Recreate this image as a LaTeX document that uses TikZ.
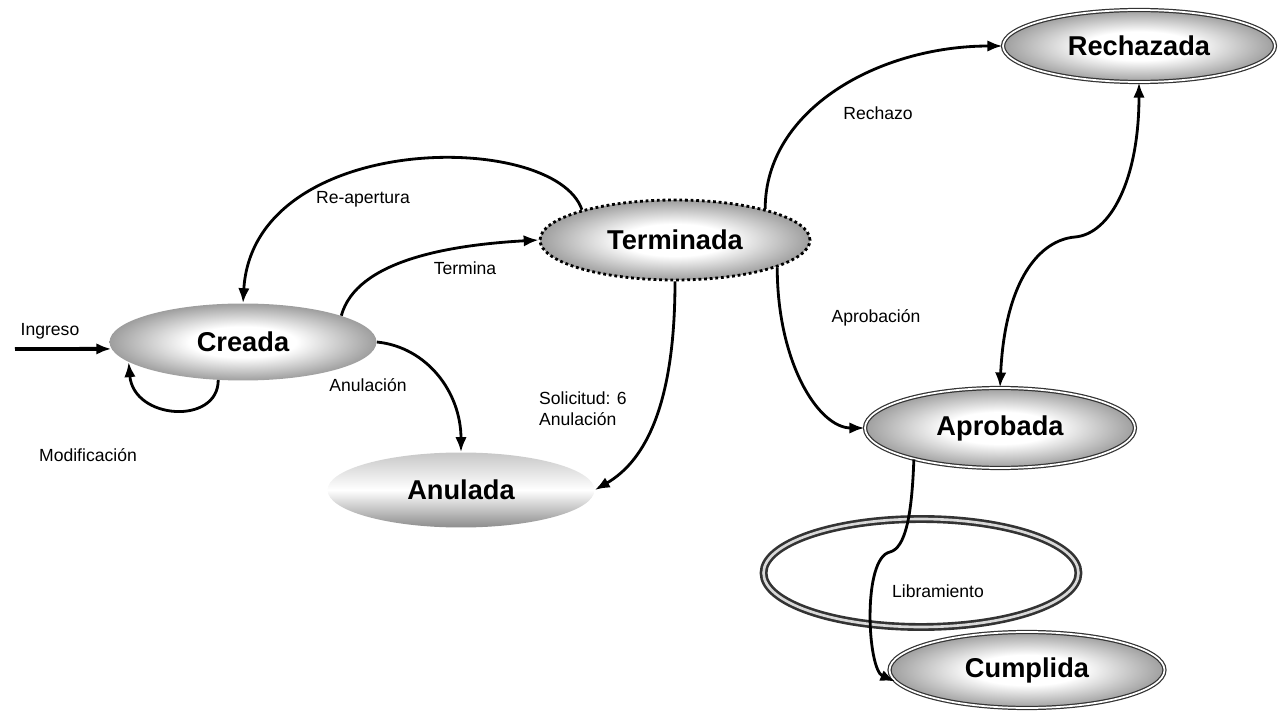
\documentclass[tikz,border=0pt]{standalone}
\usepackage{fontspec}
\setmainfont{Liberation Sans}
\usetikzlibrary{shapes.geometric,arrows.meta}

\pgfdeclareradialshading{stateShade}{\pgfpoint{0bp}{0bp}}{%
  color(0bp)=(white); color(10bp)=(white); color(25bp)=(black!38); color(50bp)=(black!38)}

\begin{document}
\begin{tikzpicture}[x=0.02cm,y=-0.02cm,%%
  stateStyle/.style={ellipse,inner sep=0pt,shading=stateShade,%%
    font=\bfseries\fontsize{15.5}{18}\selectfont},%%
  finalStyle/.style={stateStyle,draw=black!80,line width=0.7pt,double=white,%%
    double distance=1pt},%%
  dottedStyle/.style={stateStyle,draw=black,line width=1.6pt,%%
    dash pattern=on 1.6pt off 1.6pt},%%
  fadeStyle/.style={ellipse,inner sep=0pt,top color=black!22,bottom color=black!45,%%
    middle color=white,font=\bfseries\fontsize{15.5}{18}\selectfont},%%
  ringStyle/.style={ellipse,inner sep=0pt,draw=black!80,line width=1.5pt,%%
    double=black!15,double distance=1.5pt},%%
  arrowStyle/.style={-{Latex[length=8.5pt,width=6.5pt]},line width=1.6pt},%%
  labelStyle/.style={font=\fontsize{10}{12}\selectfont}%%
]
%%
\useasboundingbox (0,0) rectangle (1278,719);
%%
%% Draw the states.
\node[stateStyle,minimum width=5.34cm,minimum height=1.54cm] (creada) at (243,342) {Creada};
\node[dottedStyle,minimum width=5.4cm,minimum height=1.6cm] (terminada) at (675,240) {Terminada};
\node[fadeStyle,minimum width=5.34cm,minimum height=1.5cm] (anulada) at (461,490) {Anulada};
\node[finalStyle,minimum width=5.44cm,minimum height=1.44cm] (rechazada) at (1139,46) {Rechazada};
\node[finalStyle,minimum width=5.4cm,minimum height=1.6cm] (aprobada) at (1000,428) {Aprobada};
\node[ringStyle,minimum width=6.3cm,minimum height=2.16cm] (libramiento) at (921,573) {};
\node[finalStyle,minimum width=5.5cm,minimum height=1.52cm] (cumplida) at (1027,670) {Cumplida};
%%
\coordinate (ingresoStart) at (15,349);
\coordinate (bendRA) at (1075,237);
\coordinate (bendLC) at (890,552);
%%
%% Draw the transitions.
\draw[arrowStyle,line width=2.2pt] (ingresoStart) -- (creada.183);
\draw[arrowStyle] (creada.237) .. controls +(0,45) and +(5,58) .. (creada.190);
\draw[arrowStyle] (creada.15) .. controls +(15,-55) and +(-90,5) .. (terminada.west);
\draw[arrowStyle] (terminada.162) .. controls +(-27,-80) and +(10,-173) .. (creada.north);
\draw[arrowStyle] (creada.east) .. controls +(50,5) and +(0,-60) .. (anulada.north);
\draw[arrowStyle] (terminada.south) .. controls +(0,120) and +(52,-30) .. (anulada.east);
\draw[arrowStyle] (terminada.19) .. controls +(0,-100) and +(-123,0) .. (rechazada.west);
\draw[arrowStyle] (terminada.-15) .. controls +(0,95) and +(-46,0) .. (aprobada.west);
\draw[arrowStyle,{Latex[length=8.5pt,width=6.5pt]}-{Latex[length=8.5pt,width=6.5pt]}]
  (aprobada.north) .. controls +(5,-108) and +(-35,3) .. (bendRA)
  .. controls +(35,-3) and +(0,98) .. (rechazada.south);
\draw[arrowStyle] (aprobada.200) .. controls +(-2,58) and +(15,-4) .. (bendLC)
  .. controls +(-28,6) and +(-28,-12) .. (cumplida.185);
%%
%% Label the transitions.
\node[labelStyle] (ingresoLabel) at (50,331) {Ingreso};
\node[labelStyle] (modificacionLabel) at (88,455) {Modificación};
\node[labelStyle] (reaperturaLabel) at (363,199) {Re-apertura};
\node[labelStyle] (terminaLabel) at (465,268) {Termina};
\node[labelStyle] (anulacionLabel) at (368,385) {Anulación};
\node[labelStyle,align=left,anchor=west] (solicitudLabel) at (533,409) {Solicitud: 6\\Anulación};
\node[labelStyle] (rechazoLabel) at (878,113) {Rechazo};
\node[labelStyle] (aprobacionLabel) at (876,318) {Aprobación};
\node[labelStyle] (libramientoLabel) at (938,591) {Libramiento};
\end{tikzpicture}
\end{document}
